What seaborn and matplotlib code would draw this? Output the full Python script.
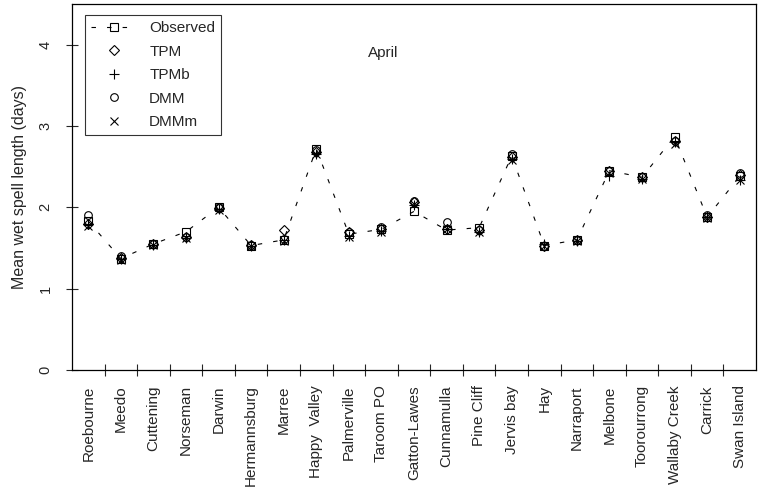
import numpy as np
import pandas as pd
import matplotlib
matplotlib.use("Agg")
import matplotlib.pyplot as plt
import seaborn as sns

stations = ["Roebourne", "Meedo", "Cuttening", "Norseman", "Darwin", "Hermannsburg",
            "Marree", "Happy  Valley", "Palmerville", "Taroom PO", "Gatton-Lawes",
            "Cunnamulla", "Pine Cliff", "Jervis bay", "Hay", "Narraport", "Melbone",
            "Toorourrong", "Wallaby Creek", "Carrick", "Swan Island"]
observed = [1.83, 1.37, 1.55, 1.70, 2.00, 1.53, 1.60, 2.72, 1.67, 1.73, 1.95,
            1.72, 1.75, 2.63, 1.53, 1.60, 2.45, 2.37, 2.87, 1.88, 2.38]
tpm = [1.80, 1.38, 1.55, 1.63, 1.99, 1.54, 1.72, 2.68, 1.70, 1.73, 2.06,
       1.73, 1.72, 2.62, 1.53, 1.60, 2.45, 2.37, 2.82, 1.88, 2.40]
tpmb = [1.80, 1.36, 1.54, 1.62, 1.98, 1.53, 1.60, 2.65, 1.65, 1.71, 2.03,
        1.73, 1.70, 2.60, 1.55, 1.58, 2.38, 2.35, 2.80, 1.88, 2.33]
dmm = [1.90, 1.40, 1.55, 1.64, 2.00, 1.54, 1.61, 2.70, 1.70, 1.76, 2.08,
       1.82, 1.72, 2.65, 1.53, 1.60, 2.45, 2.37, 2.82, 1.90, 2.42]
dmmm = [1.77, 1.35, 1.54, 1.62, 1.97, 1.53, 1.59, 2.66, 1.64, 1.70, 2.04,
        1.73, 1.70, 2.58, 1.52, 1.59, 2.42, 2.35, 2.78, 1.87, 2.33]

x = np.arange(len(stations))
df = pd.DataFrame({"x": x, "Observed": observed, "TPM": tpm, "TPMb": tpmb,
                   "DMM": dmm, "DMMm": dmmm})

sns.set_style("ticks")
plt.rcParams["font.family"] = ["Liberation Sans", "DejaVu Sans"]

fig, ax = plt.subplots(figsize=(7.64, 4.94), dpi=100)
fig.subplots_adjust(left=72/764, right=756/764, top=1-4/494, bottom=1-370/494)

# observed: dashed line with open squares, models: markers only
sns.lineplot(data=df, x="x", y="Observed", ax=ax, color="k", lw=0.8,
             linestyle=(0, (4, 10)), marker="s", ms=5.5, mfc="none", mec="k",
             mew=0.8, label="Observed")
sns.lineplot(data=df, x="x", y="TPM", ax=ax, color="k", linestyle="",
             marker="D", ms=5, mfc="none", mec="k", mew=0.8, label="TPM")
sns.lineplot(data=df, x="x", y="TPMb", ax=ax, color="k", linestyle="",
             marker="+", ms=6.5, mec="k", mew=0.8, label="TPMb")
sns.lineplot(data=df, x="x", y="DMM", ax=ax, color="k", linestyle="",
             marker="o", ms=5.5, mfc="none", mec="k", mew=0.8, label="DMM")
sns.lineplot(data=df, x="x", y="DMMm", ax=ax, color="k", linestyle="",
             marker="x", ms=5.5, mec="k", mew=0.8, label="DMMm")

ax.set_xlim(-0.5, len(stations) - 0.5)
ax.set_ylim(0, 4.5)
ax.set_xticks(x)
ax.set_xticklabels(stations, rotation=90, fontsize=11)
ax.set_xticks(x[:-1] + 0.5, minor=True)
ax.tick_params(axis="x", which="major", length=0, pad=11)
ax.tick_params(axis="x", which="minor", length=8, direction="inout", width=0.8)
ax.set_yticks([0, 1, 2, 3, 4])
ax.tick_params(axis="y", length=8, direction="inout", width=0.8, labelsize=10.5,
               pad=10, labelrotation=90)
for t in ax.get_yticklabels():
    t.set_va("center")
ax.set_xlabel("")
ax.set_ylabel("Mean wet spell length (days)", fontsize=11.5, labelpad=8)
for s in ax.spines.values():
    s.set_visible(True)
    s.set_color("k")
    s.set_linewidth(0.9)

ax.text(0.455, 0.855, "April", transform=ax.transAxes, fontsize=11, ha="center")

leg = ax.legend(loc="upper left", bbox_to_anchor=(0.019, 0.97), fontsize=11,
                frameon=True, fancybox=False, handlelength=3, labelspacing=0.62,
                borderpad=0.4, borderaxespad=0)
leg.get_frame().set_edgecolor("k")
leg.get_frame().set_linewidth(0.8)

fig.savefig("out.png", dpi=100)
